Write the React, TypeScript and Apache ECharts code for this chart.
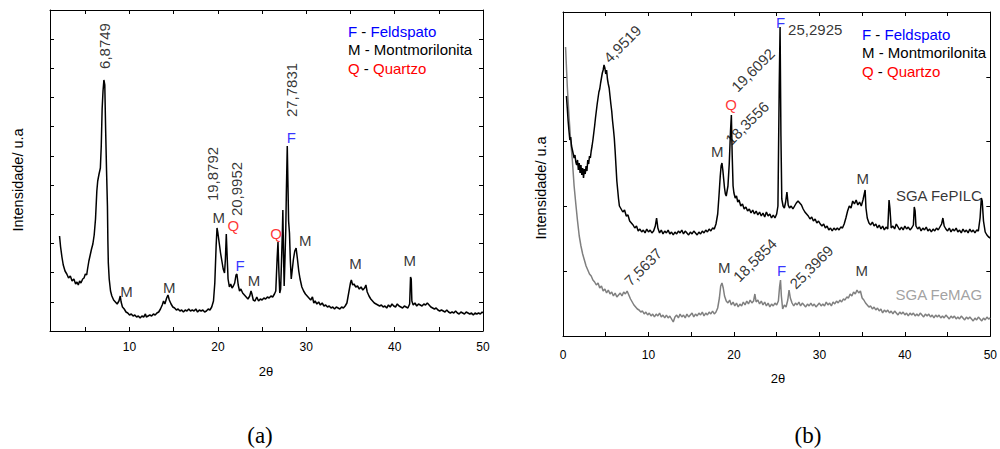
import React, { useEffect, useRef } from "react";
import * as echarts from "echarts";

// ---------- Data: (a) clay sample, 2θ vs intensity (a.u.) ----------
const sampleA: [number, number][] = [
  [2.08,95],[2.2,84],[2.35,74],[2.5,66],[2.7,60],[2.9,57],[3.1,53],[3.3,55],[3.5,50],[3.7,52],[3.9,47],[4.05,49],[4.2,46],[4.35,50],[4.5,48],[4.7,52],[4.85,53],[5.0,57],[5.15,56],[5.25,62],[5.4,70],[5.55,76],[5.7,82],[5.85,87],[6.0,96],[6.15,112],[6.3,140],[6.4,150],[6.55,157],[6.7,163],[6.8,185],[6.9,222],[7.0,240],[7.1,251],[7.2,246],[7.3,200],[7.4,160],[7.5,125],[7.55,90],[7.6,68],[7.7,52],[7.85,40],[8.0,35],[8.2,31],[8.4,29],[8.6,27],[8.8,30],[8.95,35],[9.05,29],[9.2,24],[9.4,22],[9.6,19],[9.8,18],[10.0,16],[10.2,17],[10.4,15],[10.6,16],[10.8,14],[11.0,15],[11.2,13],[11.4,15],[11.6,14],[11.8,17],[11.9,14],[12.1,15],[12.3,16],[12.5,15],[12.7,17],[12.9,16],[13.1,18],[13.3,19],[13.5,22],[13.7,26],[13.85,30],[14.0,27],[14.2,33],[14.35,36],[14.5,31],[14.7,27],[14.9,24],[15.1,23],[15.3,21],[15.5,22],[15.7,20],[15.9,21],[16.1,19],[16.3,21],[16.5,20],[16.7,22],[16.9,20],[17.1,21],[17.3,20],[17.5,22],[17.7,19],[17.9,21],[18.1,20],[18.3,21],[18.5,19],[18.7,20],[18.9,22],[19.1,21],[19.3,24],[19.5,30],[19.65,48],[19.8,85],[19.9,103],[20.0,98],[20.15,88],[20.3,78],[20.45,70],[20.6,62],[20.75,58],[20.85,72],[20.95,97],[21.05,74],[21.15,52],[21.3,44],[21.45,47],[21.6,43],[21.75,45],[21.9,48],[22.05,56],[22.15,57],[22.3,46],[22.45,40],[22.6,42],[22.8,38],[23.0,36],[23.2,34],[23.4,32],[23.6,35],[23.75,40],[23.85,37],[24.0,31],[24.2,30],[24.4,34],[24.6,30],[24.8,32],[25.0,31],[25.2,33],[25.4,32],[25.6,34],[25.8,33],[26.0,35],[26.2,34],[26.4,37],[26.55,40],[26.7,72],[26.8,89],[26.9,60],[27.0,38],[27.1,42],[27.2,70],[27.3,100],[27.35,121],[27.42,80],[27.5,45],[27.6,75],[27.68,101],[27.75,140],[27.85,185],[27.92,150],[28.0,110],[28.1,98],[28.2,70],[28.3,52],[28.4,60],[28.55,72],[28.7,80],[28.85,83],[29.0,72],[29.15,60],[29.3,52],[29.5,44],[29.7,40],[29.9,37],[30.1,35],[30.3,33],[30.5,31],[30.7,34],[30.85,28],[31.0,30],[31.2,27],[31.4,29],[31.6,26],[31.8,28],[32.0,25],[32.2,26],[32.4,24],[32.6,25],[32.8,23],[33.0,24],[33.2,22],[33.4,24],[33.6,23],[33.8,22],[34.0,24],[34.2,23],[34.4,25],[34.6,28],[34.8,38],[35.0,48],[35.1,51],[35.25,46],[35.4,47],[35.6,44],[35.8,45],[36.0,42],[36.2,44],[36.4,41],[36.6,43],[36.75,46],[36.9,39],[37.1,35],[37.3,32],[37.5,30],[37.7,28],[37.9,27],[38.1,26],[38.3,25],[38.5,26],[38.7,24],[38.9,25],[39.1,23],[39.3,26],[39.5,24],[39.7,27],[39.9,25],[40.1,24],[40.3,27],[40.5,25],[40.7,24],[40.9,23],[41.1,25],[41.3,24],[41.5,23],[41.7,27],[41.8,54],[41.88,52],[41.95,30],[42.1,26],[42.3,28],[42.5,25],[42.7,27],[42.9,26],[43.1,25],[43.3,27],[43.5,26],[43.7,28],[43.9,26],[44.1,24],[44.3,23],[44.5,22],[44.7,23],[44.9,21],[45.1,20],[45.3,21],[45.5,20],[45.7,19],[45.9,21],[46.1,19],[46.3,18],[46.5,19],[46.7,18],[46.9,20],[47.1,18],[47.3,17],[47.5,19],[47.7,18],[47.9,17],[48.1,19],[48.3,18],[48.5,17],[48.7,18],[48.9,16],[49.1,18],[49.3,17],[49.5,18],[49.7,17],[49.9,19],[50.0,18]
];

// ---------- Data: (b) SGA FePILC ----------
const fePILC: [number, number][] = [
  [0.4,240],[0.5,228],[0.6,215],[0.7,205],[0.8,196],[0.9,199],[1.0,190],[1.1,186],[1.2,182],[1.3,178],[1.4,181],[1.5,174],[1.6,171],[1.7,176],[1.8,166],[1.9,173],[2.0,163],[2.1,171],[2.2,161],[2.3,168],[2.4,158],[2.5,167],[2.6,162],[2.7,170],[2.8,165],[2.9,176],[3.0,172],[3.1,180],[3.2,178],[3.3,185],[3.4,190],[3.5,196],[3.6,203],[3.7,210],[3.8,218],[3.9,225],[4.0,232],[4.1,238],[4.2,244],[4.3,247],[4.4,253],[4.5,258],[4.6,263],[4.7,266],[4.8,271],[4.9,268],[5.0,262],[5.1,266],[5.2,257],[5.3,252],[5.4,248],[5.5,240],[5.6,232],[5.7,225],[5.8,215],[5.9,207],[6.0,198],[6.1,185],[6.2,170],[6.3,155],[6.4,146],[6.5,137],[6.6,130],[6.8,127],[7.0,124],[7.2,126],[7.4,120],[7.6,121],[7.8,115],[8.0,113],[8.2,111],[8.4,108],[8.6,110],[8.8,105],[9.0,107],[9.2,104],[9.4,106],[9.6,103],[9.8,107],[10.0,104],[10.2,106],[10.4,103],[10.6,105],[10.8,110],[10.95,118],[11.1,108],[11.3,103],[11.5,106],[11.7,102],[11.9,105],[12.1,103],[12.3,106],[12.5,102],[12.7,104],[12.9,101],[13.1,104],[13.3,102],[13.5,105],[13.7,103],[13.9,106],[14.1,102],[14.3,105],[14.5,103],[14.7,101],[14.9,104],[15.1,102],[15.3,105],[15.5,103],[15.7,101],[15.9,104],[16.1,102],[16.3,105],[16.5,103],[16.7,106],[16.9,104],[17.1,107],[17.3,105],[17.5,108],[17.7,107],[17.9,112],[18.1,122],[18.25,140],[18.4,160],[18.5,170],[18.6,173],[18.7,166],[18.8,157],[18.9,148],[19.0,142],[19.1,140],[19.2,145],[19.3,150],[19.45,172],[19.6,205],[19.7,221],[19.8,180],[19.9,150],[20.0,143],[20.15,138],[20.3,140],[20.45,134],[20.6,136],[20.8,130],[21.0,132],[21.2,127],[21.4,129],[21.6,125],[21.8,127],[22.0,123],[22.2,126],[22.4,122],[22.6,125],[22.8,121],[23.0,124],[23.2,120],[23.4,123],[23.6,119],[23.8,124],[24.0,120],[24.2,122],[24.4,118],[24.6,121],[24.8,118],[25.0,122],[25.15,130],[25.3,250],[25.4,309],[25.5,200],[25.6,137],[25.75,130],[25.9,128],[26.05,134],[26.2,144],[26.35,131],[26.5,128],[26.7,130],[26.9,127],[27.1,130],[27.3,133],[27.5,135],[27.7,133],[27.9,131],[28.1,127],[28.3,124],[28.5,122],[28.7,120],[28.9,117],[29.1,119],[29.3,115],[29.5,117],[29.7,113],[29.9,115],[30.1,112],[30.3,110],[30.5,112],[30.7,108],[30.9,110],[31.1,106],[31.3,108],[31.5,105],[31.7,108],[31.9,106],[32.1,108],[32.3,106],[32.5,109],[32.7,108],[32.9,112],[33.1,118],[33.3,125],[33.5,130],[33.7,128],[33.9,135],[34.1,132],[34.3,136],[34.5,131],[34.7,134],[34.9,130],[35.1,136],[35.25,142],[35.35,146],[35.45,128],[35.6,118],[35.8,113],[36.0,111],[36.2,114],[36.4,110],[36.6,112],[36.8,108],[37.0,111],[37.2,107],[37.4,110],[37.6,106],[37.8,109],[38.0,107],[38.15,136],[38.25,128],[38.4,108],[38.6,110],[38.8,107],[39.0,112],[39.2,109],[39.4,106],[39.6,109],[39.8,106],[40.0,110],[40.2,107],[40.4,109],[40.6,106],[40.8,108],[41.0,111],[41.1,129],[41.2,125],[41.3,110],[41.5,107],[41.7,109],[41.9,105],[42.1,108],[42.3,106],[42.5,109],[42.7,105],[42.9,107],[43.1,104],[43.3,107],[43.5,105],[43.7,108],[43.9,106],[44.1,109],[44.3,112],[44.45,118],[44.6,110],[44.8,107],[45.0,105],[45.2,108],[45.4,104],[45.6,107],[45.8,105],[46.0,108],[46.2,104],[46.4,106],[46.6,103],[46.8,107],[47.0,104],[47.2,106],[47.4,103],[47.6,107],[47.8,104],[48.0,106],[48.2,103],[48.4,106],[48.6,105],[48.8,118],[48.95,138],[49.05,135],[49.2,115],[49.4,104],[49.6,101],[49.8,99],[50.0,98]
];

// ---------- Data: (b) SGA FeMAG ----------
const feMAG: [number, number][] = [
  [0.3,289],[0.5,250],[0.7,220],[0.9,195],[1.1,175],[1.3,150],[1.5,132],[1.7,115],[1.9,100],[2.1,90],[2.3,82],[2.5,76],[2.7,70],[2.9,66],[3.1,62],[3.3,60],[3.5,56],[3.7,54],[3.9,51],[4.1,53],[4.3,48],[4.5,50],[4.7,45],[4.9,47],[5.1,43],[5.3,46],[5.5,42],[5.7,44],[5.9,40],[6.1,43],[6.3,39],[6.5,41],[6.7,43],[6.9,40],[7.1,44],[7.3,42],[7.5,45],[7.7,41],[7.9,37],[8.1,34],[8.3,31],[8.5,29],[8.7,27],[8.9,26],[9.1,24],[9.3,25],[9.5,22],[9.7,24],[9.9,21],[10.1,23],[10.3,20],[10.5,22],[10.7,19],[10.9,22],[11.1,20],[11.3,23],[11.5,19],[11.7,21],[11.9,18],[12.1,21],[12.3,18],[12.5,20],[12.7,17],[12.9,14],[13.1,19],[13.3,21],[13.5,18],[13.7,22],[13.9,19],[14.1,21],[14.3,18],[14.5,22],[14.7,19],[14.9,21],[15.1,23],[15.3,19],[15.5,22],[15.7,20],[15.9,23],[16.1,21],[16.3,24],[16.5,20],[16.7,23],[16.9,21],[17.1,24],[17.3,22],[17.5,25],[17.7,22],[17.9,24],[18.1,28],[18.3,38],[18.45,50],[18.6,53],[18.75,48],[18.9,40],[19.1,35],[19.3,33],[19.5,36],[19.7,31],[19.9,34],[20.1,30],[20.3,33],[20.5,29],[20.7,32],[20.9,30],[21.1,34],[21.3,31],[21.5,35],[21.7,32],[21.9,36],[22.1,33],[22.3,35],[22.45,42],[22.6,34],[22.8,36],[23.0,32],[23.2,35],[23.4,31],[23.6,34],[23.8,30],[24.0,33],[24.2,29],[24.4,32],[24.6,30],[24.8,33],[25.0,31],[25.2,35],[25.35,50],[25.45,56],[25.55,40],[25.7,27],[25.9,31],[26.1,29],[26.3,36],[26.45,46],[26.6,38],[26.8,33],[27.0,30],[27.2,33],[27.4,31],[27.6,34],[27.8,30],[28.0,33],[28.2,31],[28.4,29],[28.6,32],[28.8,30],[29.0,33],[29.2,30],[29.4,32],[29.6,29],[29.8,31],[30.0,33],[30.2,30],[30.4,32],[30.6,30],[30.8,34],[31.0,31],[31.2,33],[31.4,30],[31.6,34],[31.8,32],[32.0,35],[32.2,33],[32.4,36],[32.6,34],[32.8,37],[33.0,36],[33.2,39],[33.4,38],[33.6,42],[33.8,40],[34.0,44],[34.2,42],[34.4,46],[34.6,43],[34.8,45],[35.0,38],[35.2,36],[35.4,33],[35.6,31],[35.8,29],[36.0,30],[36.2,27],[36.4,29],[36.6,26],[36.8,28],[37.0,25],[37.2,27],[37.4,23],[37.6,26],[37.8,24],[38.0,26],[38.2,23],[38.4,25],[38.6,22],[38.8,25],[39.0,23],[39.2,21],[39.4,24],[39.6,22],[39.8,24],[40.0,21],[40.2,23],[40.4,20],[40.6,23],[40.8,21],[41.0,23],[41.2,20],[41.4,22],[41.6,20],[41.8,23],[42.0,21],[42.2,19],[42.4,22],[42.6,20],[42.8,22],[43.0,19],[43.2,21],[43.4,18],[43.6,21],[43.8,19],[44.0,21],[44.2,18],[44.4,20],[44.6,18],[44.8,21],[45.0,19],[45.2,17],[45.4,20],[45.6,18],[45.8,20],[46.0,17],[46.2,19],[46.4,17],[46.6,20],[46.8,18],[47.0,16],[47.2,19],[47.4,17],[47.6,19],[47.8,17],[48.0,15],[48.2,18],[48.4,16],[48.6,19],[48.8,17],[49.0,15],[49.2,18],[49.4,16],[49.6,19],[49.8,17],[50.0,18]
];

// ---------- Tick values ----------
const ticksA = [5, 10, 15, 20, 25, 30, 35, 40, 45, 50];
const tickLabelsA = [10, 20, 30, 40, 50];

// ---------- Peak annotations: [text, 2θ, intensity, rotation, kind] ----------
// kind: "n" = number/black, "F" blue, "Q" red, "M" black, "g" gray
const notesA: [string, number, number, number, string][] = [
  ["6,8749", 7.16, 285, 90, "n"],
  ["27,7831", 28.3, 241, 90, "n"],
  ["F", 28.3, 194, 0, "F"],
  ["19,8792", 19.43, 157, 90, "n"],
  ["20,9952", 22.16, 142, 90, "n"],
  ["M", 20.11, 114, 0, "M"],
  ["Q", 21.76, 106, 0, "Q"],
  ["F", 22.5, 66, 0, "F"],
  ["M", 24.09, 51, 0, "M"],
  ["Q", 26.59, 98, 0, "Q"],
  ["M", 29.89, 91, 0, "M"],
  ["M", 9.66, 40, 0, "M"],
  ["M", 14.49, 44, 0, "M"],
  ["M", 35.57, 68, 0, "M"],
  ["M", 41.7, 71, 0, "M"],
];

const notesB: [string, number, number, number, string][] = [
  ["4,9519", 6.94, 292, 45, "n"],
  ["F", 25.46, 314, 0, "F"],
  ["25,2925", 29.51, 307, 0, "n"],
  ["19,6092", 22.22, 266, 45, "n"],
  ["Q", 19.68, 232, 0, "Q"],
  ["18,3556", 21.53, 213, 45, "n"],
  ["M", 18.06, 185, 0, "M"],
  ["M", 35.07, 158, 0, "M"],
  ["SGA FePILC", 43.98, 141, 0, "n"],
  ["SGA FeMAG", 43.98, 42, 0, "g"],
  ["7,5637", 9.375, 69, 45, "n"],
  ["M", 18.87, 69, 0, "M"],
  ["18,5854", 22.45, 76, 45, "n"],
  ["F", 25.58, 66, 0, "F"],
  ["25,3969", 29.05, 69, 45, "n"],
  ["M", 34.95, 66, 0, "M"],
];

const BLUE = "#0000ff";
const RED = "#ff0000";
const GRAY = "#7f7f7f";
const FONT = '"Liberation Sans", Arial, sans-serif';

function kindColor(k: string) {
  if (k === "F") return BLUE;
  if (k === "Q") return RED;
  if (k === "g") return "#8a8a8a";
  return "#000";
}

function noteSeries(notes: [string, number, number, number, string][], xi: number, yi: number) {
  return {
    type: "scatter",
    xAxisIndex: xi,
    yAxisIndex: yi,
    symbol: "circle",
    symbolSize: 1,
    silent: true,
    z: 10,
    itemStyle: { color: "rgba(0,0,0,0)" },
    data: notes.map(([t, x, y, r, k]) => ({
      name: t,
      value: [x, y],
      label: {
        show: true,
        position: "inside",
        formatter: "{b}",
        rotate: r,
        color: kindColor(k),
        fontSize: 15,
        fontFamily: FONT,
      },
    })),
  };
}

function legendTexts(x: number, y: number) {
  const rich = {
    b: { fill: BLUE, color: BLUE, fontSize: 15, fontFamily: FONT },
    r: { fill: RED, color: RED, fontSize: 15, fontFamily: FONT },
    k: { fill: "#000", color: "#000", fontSize: 15, fontFamily: FONT },
  };
  const lines = ["{b|F}{k| - }{b|Feldspato}", "{k|M - Montmorilonita}", "{r|Q}{k| - }{r|Quartzo}"];
  return lines.map((t, i) => ({
    type: "text",
    x,
    y: y + i * 18.5,
    style: { text: t, rich, textAlign: "left", textVerticalAlign: "middle", font: `15px ${FONT}`, fill: "#000" },
  }));
}

export default function App() {
  const ref = useRef<HTMLDivElement>(null);
  useEffect(() => {
    if (!ref.current) return;
    const chart = echarts.init(ref.current, undefined, { renderer: "svg" });
    const axisLine = { show: true, onZero: false, lineStyle: { color: "#000", width: 1 } };
    const label = { color: "#000", fontSize: 12, fontFamily: FONT };
    const tick = { show: true, inside: true, length: 4, lineStyle: { color: "#000" } };
    const option: any = {
      animation: false,
      backgroundColor: "#fff",
      textStyle: { fontFamily: FONT },
      grid: [
        { left: 50, top: 10, width: 433, height: 321 },
        { left: 563, top: 12, width: 432, height: 324 },
      ],
      xAxis: [
        {
          gridIndex: 0, type: "value", min: 1, max: 50, position: "bottom",
          axisLine,
          axisTick: { ...tick, customValues: ticksA },
          axisLabel: { ...label, margin: 10, customValues: tickLabelsA },
          splitLine: { show: false },
        },
        {
          gridIndex: 0, type: "value", min: 1, max: 50, position: "top",
          axisLine,
          axisTick: { ...tick, customValues: ticksA },
          axisLabel: { show: false },
          splitLine: { show: false },
        },
        {
          gridIndex: 1, type: "value", min: 0, max: 50, interval: 5, position: "bottom",
          axisLine,
          axisTick: tick,
          axisLabel: { ...label, margin: 13, formatter: (v: number) => (v % 10 === 0 ? String(v) : "") },
          splitLine: { show: false },
        },
        {
          gridIndex: 1, type: "value", min: 0, max: 50, interval: 5, position: "top",
          axisLine,
          axisTick: tick,
          axisLabel: { show: false },
          splitLine: { show: false },
        },
      ],
      yAxis: [
        {
          gridIndex: 0, type: "value", min: 0, max: 321, interval: 321 / 11, position: "left",
          axisLine, axisTick: tick, axisLabel: { show: false }, splitLine: { show: false },
        },
        {
          gridIndex: 0, type: "value", min: 0, max: 321, interval: 321 / 11, position: "right",
          axisLine, axisTick: tick, axisLabel: { show: false }, splitLine: { show: false },
        },
        {
          gridIndex: 1, type: "value", min: 0, max: 324, interval: 64.8, position: "left",
          axisLine, axisTick: tick, axisLabel: { show: false }, splitLine: { show: false },
        },
        {
          gridIndex: 1, type: "value", min: 0, max: 324, interval: 64.8, position: "right",
          axisLine, axisTick: tick, axisLabel: { show: false }, splitLine: { show: false },
        },
      ],
      series: [
        {
          type: "line", xAxisIndex: 0, yAxisIndex: 0, data: sampleA, showSymbol: false, silent: true,
          lineStyle: { color: "#000", width: 1.5 },
        },
        {
          type: "line", xAxisIndex: 2, yAxisIndex: 2, data: feMAG, showSymbol: false, silent: true,
          lineStyle: { color: GRAY, width: 1.5 },
        },
        {
          type: "line", xAxisIndex: 2, yAxisIndex: 2, data: fePILC, showSymbol: false, silent: true,
          lineStyle: { color: "#000", width: 1.5 },
        },
        noteSeries(notesA, 0, 0),
        noteSeries(notesB, 2, 2),
      ],
      graphic: [
        ...legendTexts(348, 31),
        ...legendTexts(862, 34),
        {
          type: "text", x: 18, y: 180, rotation: Math.PI / 2,
          style: { text: "Intensidade/ u.a", font: `14.5px ${FONT}`, fill: "#000", textAlign: "center", textVerticalAlign: "middle" },
        },
        {
          type: "text", x: 541, y: 188, rotation: Math.PI / 2,
          style: { text: "Intensidade/ u.a", font: `14.5px ${FONT}`, fill: "#000", textAlign: "center", textVerticalAlign: "middle" },
        },
        {
          type: "text", x: 266, y: 371,
          style: { text: "2θ", font: `13px ${FONT}`, fill: "#000", textAlign: "center", textVerticalAlign: "middle" },
        },
        {
          type: "text", x: 778, y: 378,
          style: { text: "2θ", font: `13px ${FONT}`, fill: "#000", textAlign: "center", textVerticalAlign: "middle" },
        },
        {
          type: "text", x: 260, y: 435,
          style: { text: "(a)", font: `23px "Liberation Serif", serif`, fill: "#000", textAlign: "center", textVerticalAlign: "middle" },
        },
        {
          type: "text", x: 808, y: 435,
          style: { text: "(b)", font: `23px "Liberation Serif", serif`, fill: "#000", textAlign: "center", textVerticalAlign: "middle" },
        },
      ],
    };
    chart.setOption(option);
    return () => chart.dispose();
  }, []);
  return (
    <div
      ref={ref}
      style={{ position: "fixed", left: 0, top: 0, width: 1000, height: 449, background: "#fff" }}
    />
  );
}
